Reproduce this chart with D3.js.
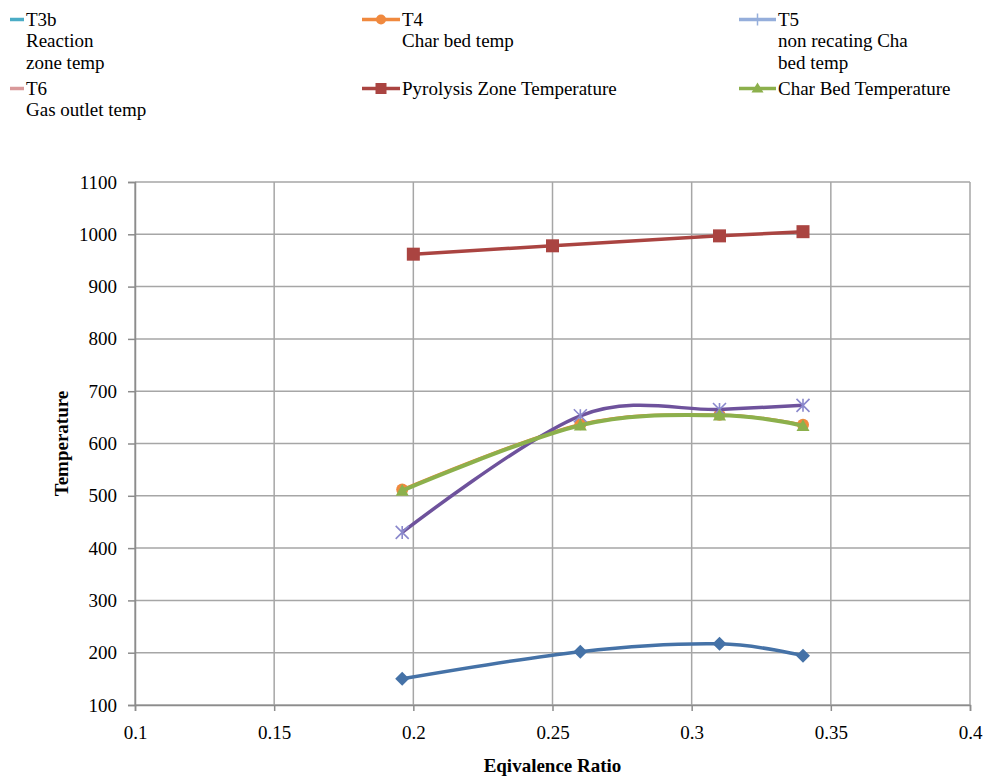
<!DOCTYPE html>
<html>
<head>
<meta charset="utf-8">
<script src="https://cdn.jsdelivr.net/npm/d3@7"></script>
<style>
  html, body { margin: 0; padding: 0; background: #fff; }
  svg { display: block; }
  svg text { font-family: "Liberation Serif", "DejaVu Serif", serif; }
</style>
</head>
<body>
<svg id="chart" width="987" height="778"></svg>
<script>
// Equivalence ratio at which each run was measured
const ratioRuns = [0.196, 0.26, 0.31, 0.34];
const ratioPyro = [0.2, 0.25, 0.31, 0.34];

// Temperatures (°C)
const reactionZone = [150, 202, 217, 194];
const charBedT4 = [512, 637, 655, 636];
const nonReactingT5 = [430, 653, 665, 673];
const pyrolysisZone = [962, 978, 997, 1005];
const charBed = [510, 635, 654, 634];

// Axis ticks
const xTicks = [0.1, 0.15, 0.2, 0.25, 0.3, 0.35, 0.4];
const yTicks = [100, 200, 300, 400, 500, 600, 700, 800, 900, 1000, 1100];

// Legend entries
const legendItems = [
  { lines: ["T3b", "Reaction", "zone temp"], color: "#4BACC6", marker: "none", col: 0, row: 0 },
  { lines: ["T4", "Char bed temp"], color: "#F0893E", marker: "circle", col: 1, row: 0 },
  { lines: ["T5", "non recating Cha", "bed temp"], color: "#95AEDB", marker: "plus", col: 2, row: 0 },
  { lines: ["T6", "Gas outlet temp"], color: "#D9999A", marker: "none", col: 0, row: 1 },
  { lines: ["Pyrolysis Zone Temperature"], color: "#AA4441", marker: "square", col: 1, row: 1 },
  { lines: ["Char Bed Temperature"], color: "#8CB04C", marker: "triangle", col: 2, row: 1 }
];

const FONT = "Liberation Serif, DejaVu Serif, serif";
const svg = d3.select("#chart");
const x = d3.scaleLinear().domain([0.1, 0.4]).range([135, 970]);
const y = d3.scaleLinear().domain([100, 1100]).range([705, 182]);

const gridColor = "#A6A6A6";

// Gridlines
const grid = svg.append("g");
grid.selectAll("line.v").data(xTicks).join("line")
  .attr("x1", d => x(d)).attr("x2", d => x(d))
  .attr("y1", y(1100)).attr("y2", y(100))
  .attr("stroke", gridColor).attr("stroke-width", 1.5);
grid.selectAll("line.h").data(yTicks).join("line")
  .attr("x1", x(0.1)).attr("x2", x(0.4))
  .attr("y1", d => y(d)).attr("y2", d => y(d))
  .attr("stroke", gridColor).attr("stroke-width", 1.5);

// Axes
const yAxis = d3.axisLeft(y).tickValues(yTicks).tickSize(7).tickPadding(11).tickFormat(d3.format("d"));
const xAxis = d3.axisBottom(x).tickValues(xTicks).tickSize(6).tickPadding(15).tickFormat(d => String(d));

const gy = svg.append("g").attr("transform", `translate(${x(0.1)},0)`).call(yAxis);
const gx = svg.append("g").attr("transform", `translate(0,${y(100)})`).call(xAxis);
[gx, gy].forEach(g => {
  g.attr("font-family", FONT).attr("font-size", 19);
  g.select(".domain").attr("stroke", "#8C8C8C").attr("stroke-width", 1.5);
  g.selectAll(".tick line").attr("stroke", "#8C8C8C").attr("stroke-width", 1.5);
  g.selectAll(".tick text").attr("fill", "#000").attr("font-size", 19)
    .attr("font-family", FONT);
});

// Axis titles
svg.append("text")
  .attr("transform", `translate(68,${(y(100) + y(1100)) / 2}) rotate(-90)`)
  .attr("text-anchor", "middle")
  .attr("font-family", FONT)
  .attr("font-size", 19).attr("font-weight", "bold")
  .text("Temperature");
svg.append("text")
  .attr("x", (x(0.1) + x(0.4)) / 2).attr("y", 772)
  .attr("text-anchor", "middle")
  .attr("font-family", FONT)
  .attr("font-size", 19).attr("font-weight", "bold")
  .text("Eqivalence Ratio");

// Series
const smooth = d3.line().curve(d3.curveCardinal.tension(0));
const straight = d3.line();
const pts = (xs, ys) => xs.map((v, i) => [x(v), y(ys[i])]);

function drawMarkers(points, kind, color, size) {
  const g = svg.append("g");
  points.forEach(([px, py]) => {
    if (kind === "diamond") {
      const s = size / 2;
      g.append("path").attr("d", `M${px},${py - s}L${px + s},${py}L${px},${py + s}L${px - s},${py}Z`).attr("fill", color);
    } else if (kind === "square") {
      g.append("rect").attr("x", px - size / 2).attr("y", py - size / 2)
        .attr("width", size).attr("height", size).attr("fill", color);
    } else if (kind === "circle") {
      g.append("circle").attr("cx", px).attr("cy", py).attr("r", size / 2).attr("fill", color);
    } else if (kind === "triangle") {
      const s = size / 2;
      g.append("path").attr("d", `M${px},${py - s}L${px + s},${py + s * 0.8}L${px - s},${py + s * 0.8}Z`).attr("fill", color);
    } else if (kind === "asterisk") {
      const s = size / 2;
      const d = `M${px - s},${py - s}L${px + s},${py + s}M${px - s},${py + s}L${px + s},${py - s}M${px},${py - s}L${px},${py + s}`;
      g.append("path").attr("d", d).attr("stroke", color).attr("stroke-width", 1.6).attr("fill", "none");
    }
  });
}

// Reaction zone (blue diamonds)
const pReaction = pts(ratioRuns, reactionZone);
svg.append("path").attr("d", smooth(pReaction)).attr("fill", "none")
  .attr("stroke", "#4572A7").attr("stroke-width", 3.5);
drawMarkers(pReaction, "diamond", "#4572A7", 14);

// T4 char bed (orange circles)
const pT4 = pts(ratioRuns, charBedT4);
svg.append("path").attr("d", smooth(pT4)).attr("fill", "none")
  .attr("stroke", "#F0893E").attr("stroke-width", 2.5);
drawMarkers(pT4, "circle", "#F0893E", 12);

// T5 non reacting char bed (purple, asterisk markers)
const pT5 = pts(ratioRuns, nonReactingT5);
svg.append("path").attr("d", smooth(pT5)).attr("fill", "none")
  .attr("stroke", "#6E529C").attr("stroke-width", 3.5);
drawMarkers(pT5, "asterisk", "#8A88CC", 13);

// Pyrolysis zone (red squares)
const pPyro = pts(ratioPyro, pyrolysisZone);
svg.append("path").attr("d", straight(pPyro)).attr("fill", "none")
  .attr("stroke", "#AA4441").attr("stroke-width", 3.5);
drawMarkers(pPyro, "square", "#AA4441", 13);

// Char bed (green triangles)
const pChar = pts(ratioRuns, charBed);
svg.append("path").attr("d", smooth(pChar)).attr("fill", "none")
  .attr("stroke", "#8CB04C").attr("stroke-width", 4);
drawMarkers(pChar, "triangle", "#8CB04C", 13);

// Legend
const colX = [10, 362, 739];
const colLen = [14, 38, 37];
const rowY = [19.5, 88.5];
const lineH = 21.7;
const lg = svg.append("g");
legendItems.forEach(item => {
  const lx = colX[item.col], ly = rowY[item.row], len = colLen[item.col];
  lg.append("line").attr("x1", lx).attr("x2", lx + len).attr("y1", ly).attr("y2", ly)
    .attr("stroke", item.color).attr("stroke-width", 3.5);
  const mx = lx + len / 2;
  if (item.marker === "circle") {
    lg.append("circle").attr("cx", mx).attr("cy", ly).attr("r", 5).attr("fill", item.color);
  } else if (item.marker === "square") {
    lg.append("rect").attr("x", mx - 5.5).attr("y", ly - 5.5).attr("width", 11).attr("height", 11).attr("fill", item.color);
  } else if (item.marker === "triangle") {
    lg.append("path").attr("d", `M${mx},${ly - 6}L${mx + 6},${ly + 4}L${mx - 6},${ly + 4}Z`).attr("fill", item.color);
  } else if (item.marker === "plus") {
    lg.append("line").attr("x1", mx).attr("x2", mx).attr("y1", ly - 6).attr("y2", ly + 6)
      .attr("stroke", item.color).attr("stroke-width", 1.5);
  }
  const t = lg.append("text").attr("x", lx + len + 2).attr("y", ly + 6)
    .attr("font-family", FONT)
    .attr("font-size", 19).attr("fill", "#000");
  item.lines.forEach((s, i) => {
    t.append("tspan").attr("x", lx + len + 2).attr("dy", i === 0 ? 0 : lineH).text(s);
  });
});
</script>
</body>
</html>
